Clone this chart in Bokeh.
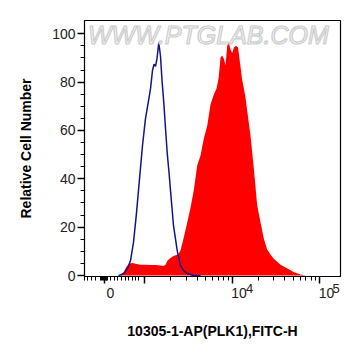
import math
from bokeh.plotting import figure
from bokeh.models import Range1d, FixedTicker, Label, LinearAxis
from bokeh.embed import file_html
from bokeh.resources import INLINE

# x positions in display decades (3 = 10^3, 4 = 10^4, 5 = 10^5)
blue_x = [2.703, 2.737, 2.771, 2.806, 2.840, 2.874, 2.909, 2.943, 2.977, 3.011,
          3.046, 3.069, 3.091, 3.109, 3.126, 3.143, 3.163, 3.183, 3.200, 3.221,
          3.240, 3.259, 3.280, 3.297, 3.331, 3.374, 3.411, 3.446, 3.488, 3.560, 3.640]
blue_y = [0.0, 0.4, 1.2, 2.9, 6.2, 13.7, 26.1, 40.1, 53.8, 64.9,
          72.4, 77.4, 84.8, 87.4, 86.5, 89.8, 96.4, 90.6, 80.7, 71.2,
          60.8, 50.9, 42.6, 35.2, 20.7, 10.3, 4.1, 2.1, 0.8, 0.0, 0.0]

red_x = [2.726, 2.760, 2.794, 2.829, 2.863, 2.909, 2.954, 3.011, 3.069, 3.126,
         3.183, 3.217, 3.240, 3.263, 3.297, 3.331, 3.366, 3.389, 3.411, 3.446,
         3.488, 3.526, 3.563, 3.602, 3.640, 3.678, 3.717, 3.754, 3.792, 3.823,
         3.846, 3.869, 3.888, 3.906, 3.926, 3.945, 3.963, 3.983, 4.002, 4.021,
         4.046, 4.069, 4.091, 4.114, 4.135, 4.154, 4.173, 4.211, 4.246, 4.288,
         4.326, 4.363, 4.402, 4.440, 4.474, 4.554, 4.634, 4.703, 4.783, 4.851, 4.897]
red_y = [0.0, 1.2, 3.7, 5.0, 5.2, 4.8, 4.5, 4.5, 4.3, 4.3,
         4.1, 3.9, 4.5, 6.2, 7.2, 8.1, 8.5, 8.9, 10.3, 15.3,
         21.9, 28.1, 35.2, 45.5, 49.6, 56.7, 62.1, 70.7, 74.9, 77.4,
         81.5, 90.2, 91.0, 89.8, 87.0, 95.1, 96.4, 93.5, 91.9, 94.3,
         95.1, 94.3, 88.1, 81.5, 77.4, 73.6, 68.3, 58.0, 45.5, 29.0,
         21.9, 15.3, 10.8, 8.7, 7.0, 4.5, 2.9, 1.4, 0.4, 0.0, 0.0]

y_ticks = [0, 20, 40, 60, 80, 100]
y_minor = [v for v in range(0, 105, 5) if v % 20 != 0]
x_major = [2.54, 3, 4, 5]
x_linear_minor = [2.314, 2.352, 2.390, 2.44, 2.50, 2.51, 2.52, 2.53, 2.55, 2.56,
                  2.57, 2.58, 2.611, 2.657, 2.695, 2.734, 2.783, 2.821, 2.859,
                  2.897, 2.935]
x_log_minor = [d + math.log10(k) for d in (3, 4) for k in range(2, 10)]
x_label_pos = [2.611, 4.08, 5.08]
x_label_text = ["0", "10", "10"]
x_sup_pos = [4.20, 5.19]
x_sup_text = ["4", "5"]

FONT = "Liberation Sans"
TXT = "#222222"

p = figure(width=356, height=350, output_backend="svg", toolbar_location=None,
           x_range=Range1d(2.314, 5.24), y_range=Range1d(-0.41, 105.5),
           min_border_left=84, min_border_right=16, min_border_top=20,
           min_border_bottom=74)
p.background_fill_color = "white"
p.border_fill_color = "white"
p.outline_line_color = "black"
p.outline_line_width = 1.2
p.grid.visible = False

# watermark
p.add_layout(Label(x=3.73, y=99.5, text="WWW.PTGLAB.COM", text_align="center",
                   text_baseline="middle", text_font=FONT, text_font_size="25px",
                   text_font_style="italic", text_color="#f6f6f6",
                   text_outline_color="#cccccc"))

p.varea(x=red_x, y1=[0] * len(red_x), y2=red_y, fill_color="#ff0000")
p.line(blue_x, blue_y, line_color="#141489", line_width=1.5)

# y axis
ya = p.yaxis[0]
ya.ticker = FixedTicker(ticks=y_ticks, minor_ticks=y_minor)
ya.major_label_text_font = FONT
ya.major_label_text_font_size = "14px"
ya.major_label_text_color = TXT
ya.major_label_standoff = 2
ya.major_tick_out = 7
ya.major_tick_in = 0
ya.minor_tick_out = 4
ya.minor_tick_in = 0
ya.major_tick_line_width = 1.5
ya.axis_line_color = "black"
ya.axis_label = "Relative Cell Number"
ya.axis_label_text_font = FONT
ya.axis_label_text_font_style = "bold"
ya.axis_label_text_font_size = "14px"
ya.axis_label_text_color = "black"
ya.axis_label_standoff = 15

# x axis: tick marks only
xa = p.xaxis[0]
xa.ticker = FixedTicker(ticks=x_major, minor_ticks=x_linear_minor + x_log_minor)
xa.major_label_overrides = {t: "" for t in x_major}
xa.major_label_text_font_size = "1px"
xa.major_label_standoff = 0
xa.major_tick_out = 7
xa.major_tick_in = 0
xa.minor_tick_out = 4
xa.minor_tick_in = 0
xa.major_tick_line_width = 1.5
xa.axis_line_color = "black"


def label_axis(ticks, texts, size, standoff):
    ax = LinearAxis(ticker=FixedTicker(ticks=ticks, minor_ticks=[]),
                    major_label_overrides=dict(zip(ticks, texts)))
    ax.axis_line_color = None
    ax.major_tick_line_color = None
    ax.minor_tick_line_color = None
    ax.major_tick_out = 0
    ax.major_tick_in = 0
    ax.minor_tick_out = 0
    ax.minor_tick_in = 0
    ax.major_label_text_font = FONT
    ax.major_label_text_font_size = size
    ax.major_label_text_color = TXT
    ax.major_label_standoff = standoff
    return ax


sup_axis = label_axis(x_sup_pos, x_sup_text, "13px", 0)
p.add_layout(sup_axis, "below")
base_axis = label_axis(x_label_pos, x_label_text, "14px", -8)
base_axis.axis_label = "10305-1-AP(PLK1),FITC-H"
base_axis.axis_label_text_font = FONT
base_axis.axis_label_text_font_style = "bold"
base_axis.axis_label_text_font_size = "14px"
base_axis.axis_label_text_color = "black"
base_axis.axis_label_standoff = 22
p.add_layout(base_axis, "below")

open("out.html", "w").write(file_html(p, INLINE))
